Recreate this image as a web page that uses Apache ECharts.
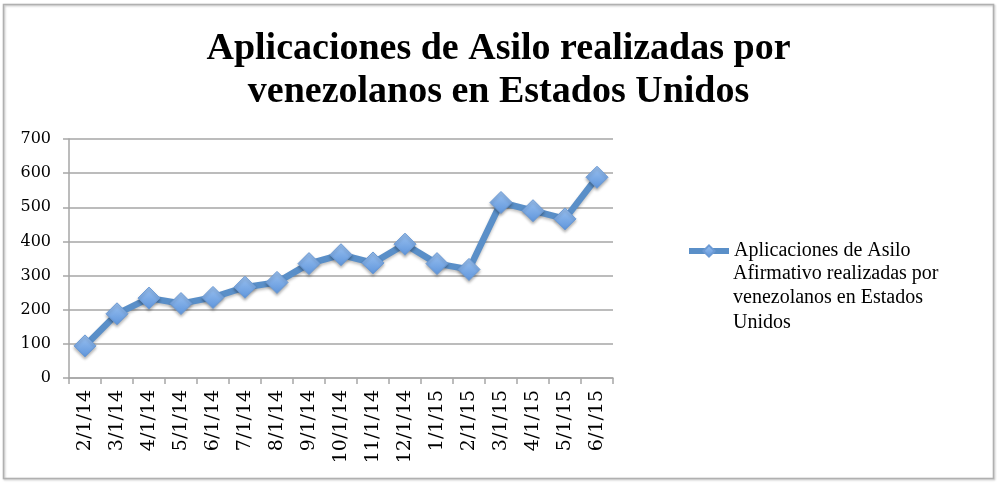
<!DOCTYPE html>
<html><head><meta charset="utf-8">
<script src="https://cdn.jsdelivr.net/npm/echarts@6/dist/echarts.min.js"></script>
<style>html,body{margin:0;padding:0;background:#fff}#c{width:997px;height:483px}</style>
</head><body><div id="c"></div>
<script>
const titleText = 'Aplicaciones de Asilo realizadas por\nvenezolanos en Estados Unidos';
const seriesName = 'Aplicaciones de Asilo';
const legendRest = 'Afirmativo realizadas por\nvenezolanos en Estados\nUnidos';
const categories = ['2/1/14','3/1/14','4/1/14','5/1/14','6/1/14','7/1/14','8/1/14','9/1/14','10/1/14','11/1/14','12/1/14','1/1/15','2/1/15','3/1/15','4/1/15','5/1/15','6/1/15'];
const values = [94, 188, 234, 218, 236, 266, 280, 335, 361, 337, 392, 335, 318, 514, 490, 466, 588];
const yTicks = [0, 100, 200, 300, 400, 500, 600, 700];

const serif = 'Liberation Serif';
const axisFont = 'DejaVu Serif';
const LH = 24.5;
const chart = echarts.init(document.getElementById('c'));
chart.setOption({
  animation: false,
  backgroundColor: '#fff',
  title: {
    text: titleText, left: 'center', top: 23,
    textStyle: { fontFamily: serif, fontWeight: 'bold', fontSize: 38, lineHeight: 43, color: '#000' }
  },
  graphic: [{
    type: 'rect', shape: { x: 3.5, y: 4.5, width: 990, height: 474 },
    style: { fill: 'none', stroke: '#b0b0b0', lineWidth: 1.5, shadowColor: 'rgba(0,0,0,0.25)', shadowBlur: 2, shadowOffsetX: 1, shadowOffsetY: 1 },
    z: -1
  }, {
    type: 'text', left: 733, top: 261,
    style: { text: legendRest, font: '20px "Liberation Serif"', lineHeight: LH, fill: '#000' }
  }],
  legend: {
    left: 686, top: 241, orient: 'vertical', padding: 0,
    itemWidth: 40, itemHeight: 14, itemGap: 0,
    lineStyle: { width: 6, color: '#5a8fc8' },
    textStyle: { fontFamily: serif, fontSize: 20, color: '#000' },
    data: [seriesName]
  },
  grid: { left: 69, right: 384, top: 139, bottom: 105, containLabel: false },
  xAxis: {
    type: 'category', data: categories, boundaryGap: true,
    axisLine: { lineStyle: { color: '#a6a6a6', width: 1.5 } },
    axisTick: { show: true, inside: false, length: 6, alignWithLabel: false, lineStyle: { color: '#a6a6a6', width: 1.5 } },
    axisLabel: { rotate: 90, margin: 12, fontFamily: axisFont, fontSize: 19, color: '#000', interval: 0 }
  },
  yAxis: {
    type: 'value', min: yTicks[0], max: yTicks[yTicks.length - 1], interval: 100,
    axisLine: { show: true, lineStyle: { color: '#a6a6a6', width: 1.5 } },
    axisTick: { show: true, length: 6, lineStyle: { color: '#a6a6a6', width: 1.5 } },
    splitLine: { lineStyle: { color: '#a6a6a6', width: 1.5 } },
    axisLabel: { margin: 18, fontFamily: axisFont, fontSize: 16, color: '#000' }
  },
  series: [{
    name: seriesName, type: 'line', data: values,
    symbol: 'diamond', symbolSize: 22,
    lineStyle: { color: '#5a8fc8', width: 6.5, shadowColor: 'rgba(0,0,0,0.25)', shadowBlur: 3, shadowOffsetY: 2 },
    itemStyle: {
      color: new echarts.graphic.LinearGradient(0, 0, 0, 1, [{ offset: 0, color: '#9cc2f0' }, { offset: 1, color: '#5e95dc' }]),
      borderColor: '#6c9ad4', borderWidth: 1,
      shadowColor: 'rgba(0,0,0,0.3)', shadowBlur: 3, shadowOffsetY: 2
    },
    z: 3
  }]
});
</script></body></html>
